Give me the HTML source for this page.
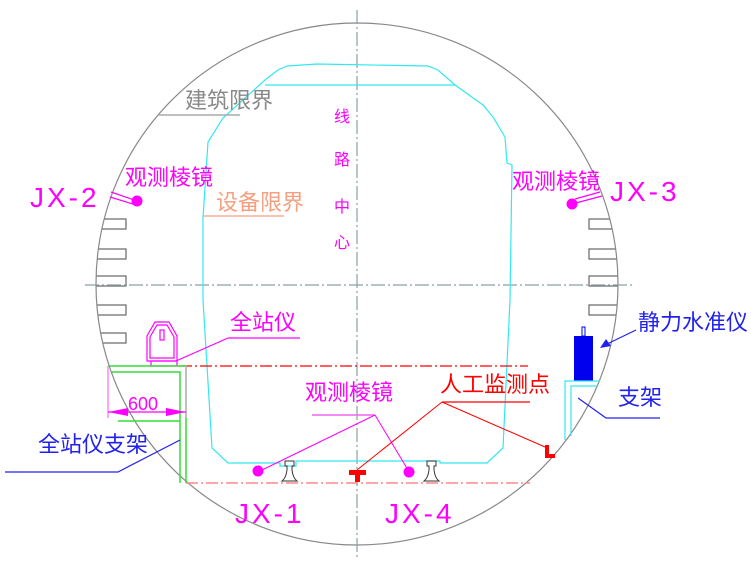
<!DOCTYPE html>
<html><head><meta charset="utf-8"><style>
html,body{margin:0;padding:0;background:#fff;}
svg{display:block;}
text{font-family:"Liberation Sans","Noto Sans CJK SC",sans-serif;}
</style></head><body>
<svg width="751" height="567" viewBox="0 0 751 567" xmlns="http://www.w3.org/2000/svg">
<defs><clipPath id="cc"><circle cx="357" cy="284" r="261"/></clipPath></defs>
<rect width="751" height="567" fill="#fff"/>
<!-- building limit bars -->
<g fill="#fff" stroke="#666" stroke-width="1.2" clip-path="url(#cc)">
<rect x="80" y="219" width="46" height="10"/>
<rect x="80" y="249" width="46" height="10"/>
<rect x="80" y="276" width="46" height="10"/>
<rect x="80" y="305" width="46" height="10"/>
<rect x="80" y="333" width="46" height="10"/>
<rect x="589" y="219" width="50" height="10"/>
<rect x="589" y="249" width="50" height="10"/>
<rect x="589" y="276" width="50" height="10"/>
<rect x="589" y="305" width="50" height="10"/>
</g>
<circle cx="357" cy="284" r="261" fill="none" stroke="#888" stroke-width="1.2"/>
<line x1="357" y1="10" x2="357" y2="560" stroke="#8aa0a8" stroke-width="1.2" stroke-dasharray="14,3,2,3"/>
<line x1="85" y1="285" x2="632" y2="285" stroke="#8aa0a8" stroke-width="1.2" stroke-dasharray="14,3,2,3"/>
<polyline fill="none" stroke="#33e8f0" stroke-width="1.2" points="208,142 223,118 265,80 278,70 287,66 317,64 428,66 438,70 455,85 483,105 493,117 505,137 507,163 512,165 510,300 503,448 487,463 440,463 440,461 296,461 296,466 280,466 280,463 228,463 212,448 203,300 203,218 208,142"/>
<line x1="265" y1="85" x2="455" y2="85" stroke="#33e8f0" stroke-width="1.2"/>
<text x="185" y="108" font-size="22" fill="#888">建筑限界</text>
<line x1="158" y1="115" x2="240" y2="115" stroke="#aaa" stroke-width="1.5"/>
<text x="216" y="210" font-size="22" fill="#f4a080">设备限界</text>
<line x1="203" y1="216" x2="284" y2="216" stroke="#f4a080" stroke-width="1.2"/>
<g fill="#ff00ff" font-size="16">
<text x="334" y="122">线</text><text x="334" y="165">路</text><text x="334" y="212">中</text><text x="334" y="248">心</text>
</g>
<g fill="#ff00ff" stroke="#ff00ff">
<text x="125" y="185" font-size="22" stroke="none">观测棱镜</text>
<text x="30" y="207" font-size="28" stroke="none" letter-spacing="3">JX-2</text>
<line x1="111" y1="192" x2="137" y2="201" stroke-width="1.2"/>
<line x1="110" y1="197" x2="136" y2="205" stroke-width="1.2"/>
<circle cx="137" cy="201" r="5"/>
<text x="512" y="189" font-size="22" stroke="none">观测棱镜</text>
<text x="610" y="201" font-size="28" stroke="none" letter-spacing="3">JX-3</text>
<line x1="572" y1="204" x2="602" y2="196" stroke-width="1.2"/>
<line x1="575" y1="199" x2="600" y2="192" stroke-width="1.2"/>
<circle cx="572" cy="204" r="5"/>
<circle cx="258" cy="471" r="5"/>
<circle cx="409" cy="472" r="5"/>
<text x="235" y="523" font-size="28" stroke="none" letter-spacing="3">JX-1</text>
<text x="385" y="523" font-size="28" stroke="none" letter-spacing="3">JX-4</text>
<text x="305" y="400" font-size="22" stroke="none">观测棱镜</text>
<line x1="312" y1="415" x2="375" y2="415" stroke="#ee66ee" stroke-width="1.5"/>
<line x1="375" y1="415" x2="262" y2="470" stroke-width="1"/>
<line x1="375" y1="415" x2="408" y2="470" stroke-width="1"/>
</g>
<g fill="none" stroke="#333" stroke-width="1">
<path d="M287,470 v-4 h-2 v-5 h9 v5 h-2 v4 q1,8 5,11 h-15 q4,-3 5,-11 z"/>
<path d="M429,470 v-4 h-2 v-5 h9 v5 h-2 v4 q1,8 5,11 h-15 q4,-3 5,-11 z"/>
</g>
<line x1="180" y1="366" x2="528" y2="366" stroke="#f00" stroke-width="1.2" stroke-dasharray="12,3,2,3"/>
<line x1="186" y1="483" x2="530" y2="483" stroke="#f88" stroke-width="1.5" stroke-dasharray="12,3,2,3"/>
<text x="440" y="392" font-size="22" fill="#f00">人工监测点</text>
<line x1="442" y1="402" x2="530" y2="402" stroke="#f00" stroke-width="1.2"/>
<line x1="442" y1="402" x2="357" y2="470" stroke="#f00" stroke-width="1"/>
<line x1="442" y1="402" x2="545" y2="447" stroke="#f00" stroke-width="1"/>
<path d="M349,470 h17 v5 h-6 v7 h-5 v-7 h-6 z" fill="#f00"/>
<path d="M545,445 h4 v9 h6 v4 h-10 z" fill="#f00"/>
<g fill="none" stroke="#ff00ff" stroke-width="1.2">
<path d="M147,361 v-25 l8,-14 h14 l8,14 v25 z"/>
<path d="M150,358 v-21 l7,-12 h10 l7,12 v21 z"/>
<rect x="160" y="330" width="4" height="10"/>
<rect x="151" y="361" width="26" height="5"/>
<line x1="176" y1="361" x2="228" y2="338"/>
<line x1="228" y1="338" x2="300" y2="338"/>
</g>
<text x="230" y="330" font-size="22" fill="#ff00ff">全站仪</text>
<g fill="none" stroke="#33dd33" stroke-width="1.5">
<polyline points="108,366 186,366 186,483"/>
<polyline points="112,372 180,372 180,483"/>
<line x1="118" y1="421" x2="180" y2="421"/>
</g>
<line x1="108" y1="366" x2="108" y2="418" stroke="#ff66ff" stroke-width="1.2"/>
<line x1="186" y1="366" x2="186" y2="418" stroke="#dda0dd" stroke-width="1.2"/>
<line x1="108" y1="412" x2="186" y2="412" stroke="#ff00ff" stroke-width="1.2"/>
<path d="M108,412 l20,-4 v8 z M186,412 l-20,-4 v8 z" fill="#ff00ff"/>
<text x="128" y="410" font-size="18" fill="#ff00ff">600</text>
<text x="38" y="452" font-size="22" fill="#2222ee">全站仪支架</text>
<polyline points="5,472 118,472 180,440" fill="none" stroke="#2222ee" stroke-width="1.2"/>
<rect x="574" y="336" width="19" height="45" fill="#0000ee"/>
<rect x="582" y="327" width="3" height="9" fill="#fff" stroke="#0000ee" stroke-width="1"/>
<polyline points="565,440 565,381 600,381" fill="none" stroke="#33e8f0" stroke-width="1.2"/>
<polyline points="571,436 571,386 598,386" fill="none" stroke="#33e8f0" stroke-width="1.2"/>
<text x="638" y="330" font-size="22" fill="#2222ee">静力水准仪</text>
<line x1="636" y1="330" x2="605" y2="345" stroke="#2222ee" stroke-width="1.2"/>
<path d="M600,348 l6,-9 l5,7 z" fill="#2222ee"/>
<text x="618" y="405" font-size="22" fill="#2222ee">支架</text>
<polyline points="578,398 606,418 660,418" fill="none" stroke="#2222ee" stroke-width="1.2"/>
</svg>
</body></html>
